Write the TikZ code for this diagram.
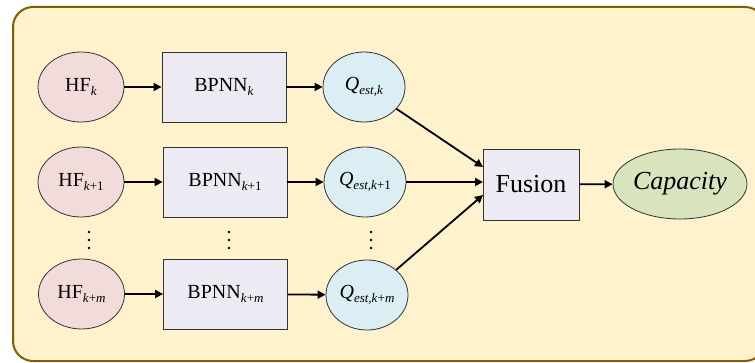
\documentclass[tikz,border=0pt]{standalone}
\usepackage{fontspec}
\setmainfont{Liberation Serif}
\usetikzlibrary{shapes.geometric,arrows.meta}
\definecolor{bgfill}{HTML}{FFF2CC}
\definecolor{bgline}{HTML}{7F6000}
\definecolor{hffill}{HTML}{F2DCDB}
\definecolor{nnfill}{HTML}{ECEAF2}
\definecolor{qfill}{HTML}{DAEEF3}
\definecolor{capfill}{HTML}{D7E4BD}
\definecolor{nodeline}{HTML}{333333}
\newcommand\lsub[1]{\raisebox{-4pt}{\fontsize{13}{13}\selectfont #1}}
\begin{document}
\begin{tikzpicture}[x=1pt,y=-1pt,
  base/.style={draw=nodeline, line width=0.8pt, inner sep=0pt, font=\fontsize{20}{24}\selectfont},
  hfnode/.style={base, ellipse, fill=hffill, minimum width=86pt, minimum height=70pt},
  nnnode/.style={base, rectangle, fill=nnfill, minimum width=124pt, minimum height=70pt},
  qnode/.style={base, ellipse, fill=qfill, minimum width=82pt, minimum height=70pt},
  fusnode/.style={base, rectangle, fill=nnfill, minimum width=96pt, minimum height=71pt, font=\fontsize{26}{30}\selectfont},
  capnode/.style={base, ellipse, fill=capfill, minimum width=134pt, minimum height=70pt, font=\fontsize{26}{30}\selectfont\itshape},
  arr/.style={line width=1.8pt, -{Triangle[length=8pt,width=8pt]}},
  dotc/.style={fill=black, draw=none}
]
\useasboundingbox (0,0) rectangle (755,363);
\clip (0,0) rectangle (755,363);
\draw[bgline, fill=bgfill, line width=2pt, rounded corners=20pt] (13,7) rectangle (765,361);

\node[hfnode] (hf1) at (81,87) {HF\lsub{\textit{k}}};
\node[hfnode] (hf2) at (81,182) {HF\lsub{\textit{k}+1}};
\node[hfnode] (hf3) at (81.5,294) {HF\lsub{\textit{k}+\textit{m}}};

\node[nnnode] (nn1) at (224,87) {BPNN\lsub{\textit{k}}};
\node[nnnode] (nn2) at (225,182) {BPNN\lsub{\textit{k}+1}};
\node[nnnode] (nn3) at (225.5,294) {BPNN\lsub{\textit{k}+\textit{m}}};

\node[qnode] (q1) at (364,87) {\textit{Q}\lsub{\textit{est,k}}};
\node[qnode] (q2) at (365,182) {\textit{Q}\lsub{\textit{est,k}+1}};
\node[qnode] (q3) at (367,295) {\textit{Q}\lsub{\textit{est,k}+\textit{m}}};

\node[fusnode] (fu) at (531,184.5) {Fusion};
\node[capnode] (ca) at (680,184) {Capacity};

\coordinate (fa) at (483,167);
\coordinate (fb) at (483,182);
\coordinate (fc) at (483,195);

\draw[arr] (hf1) -- (nn1);
\draw[arr] (hf2) -- (nn2);
\draw[arr] (hf3) -- (nn3);
\draw[arr] (nn1) -- (q1);
\draw[arr] (nn2) -- (q2);
\draw[arr] (nn3) -- (q3);
\draw[arr] (q1) -- (fa);
\draw[arr] (q2.east) -- (fb);
\draw[arr] (q3) -- (fc);
\draw[arr] (fu) -- (ca);

\foreach \x in {89,229,371}{
  \foreach \y in {232,240,248}{
    \fill[dotc] (\x,\y) circle (1.3pt);
  }
}
\end{tikzpicture}
\end{document}
